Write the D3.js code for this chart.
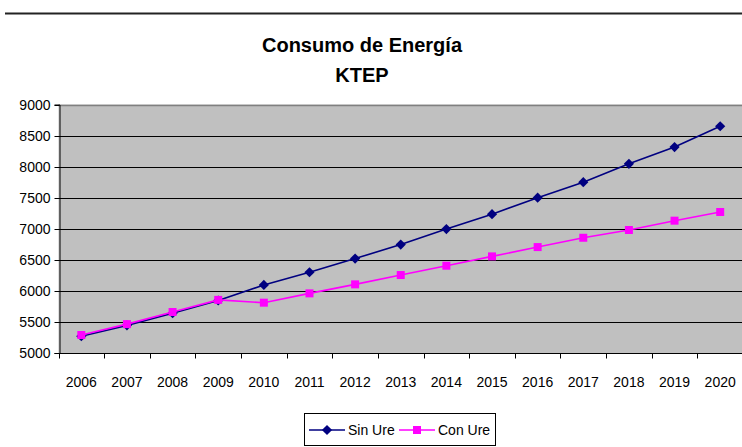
<!DOCTYPE html>
<html>
<head>
<meta charset="utf-8">
<script src="https://cdn.jsdelivr.net/npm/d3@7"></script>
<style>
  html, body { margin: 0; padding: 0; background: #fff; }
  svg { display: block; font-family: "Liberation Sans", Arial, sans-serif; }
</style>
</head>
<body>
<svg id="chart" width="742" height="447"></svg>
<script>
// Energy consumption projections (KTEP), with and without URE measures
const years = ["2006","2007","2008","2009","2010","2011","2012","2013","2014","2015","2016","2017","2018","2019","2020"];
const sinUre = [5270, 5445, 5640, 5845, 6095, 6300, 6520, 6745, 6995, 7235, 7500, 7750, 8045, 8315, 8650];
const conUre = [5290, 5465, 5660, 5855, 5810, 5960, 6105, 6255, 6405, 6555, 6705, 6855, 6980, 7130, 7270];
const yTicks = [5000, 5500, 6000, 6500, 7000, 7500, 8000, 8500, 9000];
const titleLines = ["Consumo de Energía", "KTEP"];
const seriesNames = ["Sin Ure", "Con Ure"];

const svg = d3.select("#chart");
const W = 742, H = 447;
const plot = { left: 58.5, right: 743, top: 104.5, bottom: 353 };

// Rule across the top of the page
svg.append("line")
  .attr("x1", 5).attr("x2", W).attr("y1", 13.5).attr("y2", 13.5)
  .attr("stroke", "#222").attr("stroke-width", 2);

// Title
svg.selectAll("text.title").data(titleLines).enter().append("text")
  .attr("class", "title")
  .attr("x", 362).attr("y", (d, i) => 52 + i * 30)
  .attr("text-anchor", "middle")
  .attr("font-size", 20).attr("font-weight", "bold")
  .attr("fill", "#000")
  .text(d => d);

const x = d3.scaleBand().domain(years).range([plot.left, plot.right]);
const y = d3.scaleLinear().domain([5000, 9000]).range([plot.bottom, plot.top]);

// Plot background
svg.append("rect")
  .attr("x", plot.left).attr("y", plot.top)
  .attr("width", plot.right - plot.left).attr("height", plot.bottom - plot.top)
  .attr("fill", "#C0C0C0");

// Horizontal gridlines
svg.append("g").selectAll("line").data(yTicks.slice(1, -1)).enter().append("line")
  .attr("x1", plot.left).attr("x2", plot.right)
  .attr("y1", d => Math.round(y(d)) + 0.5).attr("y2", d => Math.round(y(d)) + 0.5)
  .attr("stroke", "#000").attr("stroke-width", 1);

// Top border of the plot area
svg.append("line")
  .attr("x1", plot.left).attr("x2", plot.right)
  .attr("y1", Math.round(y(9000)) + 0.5).attr("y2", Math.round(y(9000)) + 0.5)
  .attr("stroke", "#808080").attr("stroke-width", 1.5);

// Y axis
const yAxis = d3.axisLeft(y).tickValues(yTicks).tickSize(5).tickPadding(4).tickFormat(d3.format("d"));
const gy = svg.append("g").attr("transform", `translate(${Math.round(plot.left) + 0.5},0)`).call(yAxis);
gy.select(".domain").attr("stroke", "#000");
gy.selectAll(".tick line").attr("stroke", "#000");
gy.selectAll(".tick text").attr("font-size", 14).attr("fill", "#000")
  .attr("font-family", "'Liberation Sans', Arial, sans-serif");
gy.selectAll(".tick").attr("transform", d => `translate(0,${Math.round(y(d)) + 0.5})`);

// X axis with ticks at category boundaries
const gx = svg.append("g").attr("transform", `translate(0,${Math.round(plot.bottom) + 0.5})`);
gx.append("line").attr("x1", plot.left).attr("x2", plot.right).attr("stroke", "#000");
const boundaries = years.map(d => x(d)).concat([plot.right]);
gx.selectAll("line.tk").data(boundaries).enter().append("line")
  .attr("class", "tk")
  .attr("x1", d => Math.round(d) + 0.5).attr("x2", d => Math.round(d) + 0.5)
  .attr("y1", 0).attr("y2", 5).attr("stroke", "#000");
gx.selectAll("text").data(years).enter().append("text")
  .attr("x", d => x(d) + x.bandwidth() / 2)
  .attr("y", 33)
  .attr("text-anchor", "middle")
  .attr("font-size", 14).attr("fill", "#000")
  .text(d => d);

const cx = d => x(d) + x.bandwidth() / 2;
const line = vals => d3.line().x((d, i) => cx(years[i])).y(d => y(d))(vals);

// Diamond = square turned 45 degrees; square marker for the second series
const diamond = d3.symbol().type(d3.symbolSquare).size(52);
const square = d3.symbol().type(d3.symbolSquare).size(64);

// Sin Ure series
svg.append("path").attr("d", line(sinUre))
  .attr("fill", "none").attr("stroke", "#000080").attr("stroke-width", 1.6);
svg.append("g").selectAll("path").data(sinUre).enter().append("path")
  .attr("d", diamond)
  .attr("transform", (d, i) => `translate(${cx(years[i])},${y(d)}) rotate(45)`)
  .attr("fill", "#000080");

// Con Ure series
svg.append("path").attr("d", line(conUre))
  .attr("fill", "none").attr("stroke", "#FF00FF").attr("stroke-width", 1.6);
svg.append("g").selectAll("path").data(conUre).enter().append("path")
  .attr("d", square)
  .attr("transform", (d, i) => `translate(${cx(years[i])},${y(d)})`)
  .attr("fill", "#FF00FF");

// Legend
const lg = svg.append("g");
lg.append("rect").attr("x", 304.5).attr("y", 413.5).attr("width", 191).attr("height", 32)
  .attr("fill", "#fff").attr("stroke", "#000").attr("stroke-width", 1);
const legendItems = [
  { name: seriesNames[0], color: "#000080", sym: diamond, x0: 309, rot: 45 },
  { name: seriesNames[1], color: "#FF00FF", sym: square, x0: 399, rot: 0 }
];
legendItems.forEach(it => {
  lg.append("line").attr("x1", it.x0).attr("x2", it.x0 + 36).attr("y1", 430).attr("y2", 430)
    .attr("stroke", it.color).attr("stroke-width", 1.6);
  lg.append("path").attr("d", it.sym)
    .attr("transform", `translate(${it.x0 + 18},430) rotate(${it.rot})`).attr("fill", it.color);
  lg.append("text").attr("x", it.x0 + 39).attr("y", 435)
    .attr("font-size", 14).attr("fill", "#000").text(it.name);
});
</script>
</body>
</html>
